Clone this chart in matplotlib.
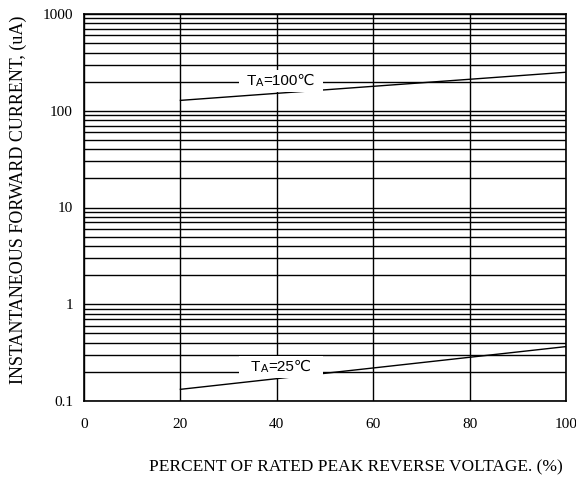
import numpy as np
import matplotlib
matplotlib.use("Agg")
import matplotlib.pyplot as plt
from matplotlib.ticker import FixedLocator, LogLocator, NullFormatter
from matplotlib.patches import Rectangle
from matplotlib.transforms import IdentityTransform

# Data
x_pts = [20, 100]
i_100c = [128, 250]      # uA at TA=100°C
i_25c = [0.132, 0.365]   # uA at TA=25°C
x_ticks = [0, 20, 40, 60, 80, 100]
y_ticks = [0.1, 1, 10, 100, 1000]
y_ticklabels = ["0.1", "1", "10", "100", "1000"]
label_100 = ("T", "A", "=100℃")
label_25 = ("T", "A", "=25℃")

serif = ["Liberation Serif", "DejaVu Serif"]
sans = ["Liberation Sans", "DejaVu Sans"]

fig = plt.figure(figsize=(5.76, 4.83), dpi=100)
ax = fig.add_axes([84/576, 1-401/483, (566-84)/576, (401-14)/483])

ax.set_xlim(0, 100)
ax.set_yscale("log")
ax.set_ylim(0.1, 1000)

ax.set_xticks(x_ticks)
ax.set_xticklabels([str(v) for v in x_ticks], family=serif, fontsize=11)
ax.yaxis.set_major_locator(FixedLocator(y_ticks))
ax.set_yticklabels(y_ticklabels, family=serif, fontsize=11)
ax.yaxis.set_minor_locator(LogLocator(base=10, subs=np.arange(2, 10)))
ax.yaxis.set_minor_formatter(NullFormatter())
ax.tick_params(axis="both", which="both", length=0)
ax.tick_params(axis="x", pad=12)
ax.tick_params(axis="y", pad=8)

ax.grid(True, which="major", axis="x", color="black", lw=1.0)
ax.grid(True, which="both", axis="y", color="black", lw=1.0)
ax.set_axisbelow(True)
for s in ax.spines.values():
    s.set_linewidth(1.2)
    s.set_color("black")
    s.set_zorder(5)

ax.plot(x_pts, i_100c, color="black", lw=1.0, zorder=2)
ax.plot(x_pts, i_25c, color="black", lw=1.0, zorder=2)


def label(xv, yv, parts, size=11, box_w=84, box_h=22):
    t1 = ax.text(xv, yv, parts[0], family=sans, fontsize=size, ha="left",
                 va="center", zorder=4)
    t2 = ax.annotate(parts[1], xy=(1, 0), xycoords=t1, xytext=(0.3, 0),
                     textcoords="offset points", family=sans,
                     fontsize=size*0.72, ha="left", va="bottom", zorder=4)
    t3 = ax.annotate(parts[2], xy=(1, 0), xycoords=t2, family=sans,
                     fontsize=size, ha="left", va="bottom", zorder=4)
    fig.canvas.draw()
    r = fig.canvas.get_renderer()
    x0 = t1.get_window_extent(r).x0
    x1 = t3.get_window_extent(r).x1
    cx, cy = ax.transData.transform((xv, yv))
    # shift so that the whole label is centred on xv
    shift = cx - (x0 + x1) / 2
    nx = ax.transData.inverted().transform((cx + shift, cy))[0]
    t1.set_x(nx)
    rect = Rectangle((cx - box_w/2, cy - box_h/2), box_w, box_h,
                     transform=IdentityTransform(), fc="white", ec="none",
                     zorder=3)
    ax.add_artist(rect)


label(40.8, 205, label_100)
label(40.9, 0.224, label_25)

ax.set_ylabel("INSTANTANEOUS FORWARD CURRENT, (uA)", family=serif,
              fontsize=13)
ax.yaxis.set_label_coords(-(84-18)/482, (401-200)/387)
ax.set_xlabel("PERCENT OF RATED PEAK REVERSE VOLTAGE. (%)", family=serif,
              fontsize=12.5)
ax.xaxis.set_label_coords((356-84)/482, -(467-401)/387)
ax.xaxis.label.set_va("center")
ax.yaxis.label.set_va("center")

fig.savefig("out.png", dpi=100)
